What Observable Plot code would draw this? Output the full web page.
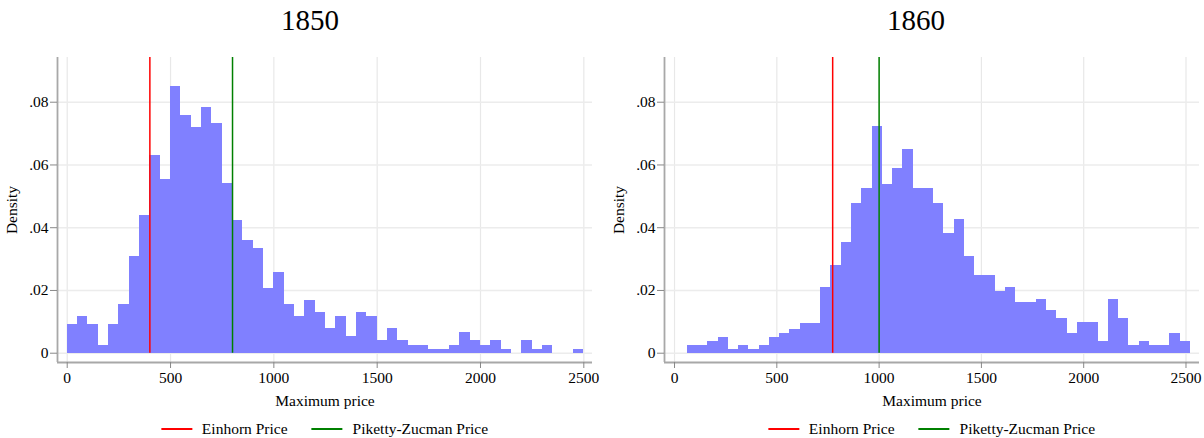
<!DOCTYPE html>
<html><head><meta charset="utf-8">
<script src="https://cdn.jsdelivr.net/npm/d3@7"></script>
<script src="https://cdn.jsdelivr.net/npm/@observablehq/plot@0.6"></script>
<style>
body{margin:0;background:#fff;font-family:"Liberation Serif","Times New Roman",serif;}
#wrap{position:relative;width:1204px;height:438px;overflow:hidden;}
.panel{position:absolute;top:0;width:602px;height:438px;}
.title{position:absolute;top:0;font-size:29px;line-height:40px;transform:translateX(-50%);white-space:nowrap;color:#000;}
.plotbox{position:absolute;top:45px;left:0;}
.legend{position:absolute;top:420px;display:flex;align-items:center;font-size:15.5px;line-height:18px;transform:translateX(-50%);white-space:nowrap;color:#000;}
.sw{display:inline-block;width:31px;height:1.5px;margin-right:10px;}
.gap{display:inline-block;width:24px;}
</style></head>
<body>
<div id="wrap"></div>
<script>
// ---- data ----
const panelYears = ["1850", "1860"];
const xTicks = [0, 500, 1000, 1500, 2000, 2500];
const yTicks = [0, 0.02, 0.04, 0.06, 0.08];
const binStart = [0, 62];
const binWidth = [50, 50.2];
const density1850 = [0.0091, 0.0117, 0.0091, 0.0024, 0.0091, 0.0155, 0.0308, 0.0440, 0.0630, 0.0553,
  0.0850, 0.0757, 0.0719, 0.0783, 0.0732, 0.0541, 0.0423, 0.0359, 0.0334, 0.0206,
  0.0257, 0.0155, 0.0117, 0.0168, 0.0130, 0.0079, 0.0117, 0.0053, 0.0130, 0.0117,
  0.0040, 0.0079, 0.0040, 0.0024, 0.0024, 0.0012, 0.0012, 0.0024, 0.0066, 0.0040,
  0.0024, 0.0040, 0.0012, 0, 0.0040, 0.0012, 0.0024, 0, 0, 0.0012];
const density1860 = [0.0024, 0.0024, 0.0037, 0.0050, 0.0012, 0.0024, 0.0012, 0.0024, 0.0050, 0.0062,
  0.0075, 0.0096, 0.0096, 0.0208, 0.0281, 0.0354, 0.0478, 0.0526, 0.0723, 0.0539,
  0.0589, 0.0650, 0.0526, 0.0526, 0.0478, 0.0380, 0.0427, 0.0307, 0.0247, 0.0247,
  0.0197, 0.0208, 0.0161, 0.0161, 0.0170, 0.0135, 0.0110, 0.0062, 0.0097, 0.0097,
  0.0037, 0.0170, 0.0110, 0.0024, 0.0037, 0.0024, 0.0024, 0.0062, 0.0037];
const einhornPrice = [400, 773];
const pikettyZucmanPrice = [800, 1000];
const seriesNames = ["Einhorn Price", "Piketty-Zucman Price"];
const seriesColors = ["#ff0000", "#008000"];
const xLabel = "Maximum price";
const yLabel = "Density";

// ---- layout ----
const layouts = [
  {left: 0, width: 602, marginLeft: 57, marginRight: 10, xDomain: [-47, 2542], titleX: 310},
  {left: 602, width: 602, marginLeft: 62, marginRight: 5, xDomain: [-49, 2566], titleX: 314}
];
const yDomain = [-0.00296, 0.09425];
const fmtY = d => d === 0 ? "0" : d3.format(".2f")(d).replace(/^0/, "");
const fmtX = d3.format("d");
const densities = [density1850, density1860];

const wrap = document.getElementById("wrap");
layouts.forEach((L, k) => {
  const data = densities[k].map((d, i) => ({
    x1: binStart[k] + i * binWidth[k],
    x2: binStart[k] + (i + 1) * binWidth[k],
    d
  }));
  const chart = Plot.plot({
    width: L.width, height: 367,
    marginTop: 12, marginBottom: 50, marginLeft: L.marginLeft, marginRight: L.marginRight,
    style: {fontFamily: "'Liberation Serif', serif", fontSize: "15.5px", color: "#000", background: "#fff", overflow: "visible"},
    x: {domain: L.xDomain},
    y: {domain: yDomain},
    marks: [
      Plot.gridX(xTicks, {stroke: "#e8e8e8", strokeOpacity: 1, strokeWidth: 1.2}),
      Plot.gridY(yTicks, {stroke: "#ececec", strokeOpacity: 1, strokeWidth: 1.5}),
      Plot.rectY(data, {x1: "x1", x2: "x2", y1: 0, y2: "d", fill: "#8080ff", inset: 0, shapeRendering: "crispEdges"}),
      Plot.ruleX([einhornPrice[k]], {y1: 0, y2: yDomain[1], stroke: seriesColors[0], strokeWidth: 1.5}),
      Plot.ruleX([pikettyZucmanPrice[k]], {y1: 0, y2: yDomain[1], stroke: seriesColors[1], strokeWidth: 1.5}),
      Plot.ruleX([L.xDomain[0]], {stroke: "#a8a8a8", strokeWidth: 1.8}),
      Plot.ruleY([yDomain[0]], {stroke: "#a8a8a8", strokeWidth: 1.8}),
      Plot.axisX(xTicks, {tickSize: 6, tickPadding: 3, stroke: "#888", fill: "#000", tickFormat: fmtX,
        label: xLabel, labelAnchor: "center", labelArrow: "none", labelOffset: 43}),
      Plot.axisY(yTicks, {tickSize: 7, tickPadding: 2, stroke: "#888", fill: "#000", tickFormat: fmtY,
        label: yLabel, labelAnchor: "center", labelArrow: "none", labelOffset: 52})
    ]
  });
  const panel = document.createElement("div");
  panel.className = "panel";
  panel.style.left = L.left + "px";
  const title = document.createElement("div");
  title.className = "title";
  title.style.left = L.titleX + "px";
  title.textContent = panelYears[k];
  panel.appendChild(title);
  const box = document.createElement("div");
  box.className = "plotbox";
  box.appendChild(chart);
  panel.appendChild(box);
  const legend = document.createElement("div");
  legend.className = "legend";
  legend.style.left = ((L.marginLeft + L.width - L.marginRight) / 2) + "px";
  seriesNames.forEach((name, j) => {
    if (j > 0) { const g = document.createElement("span"); g.className = "gap"; legend.appendChild(g); }
    const sw = document.createElement("span");
    sw.className = "sw";
    sw.style.background = seriesColors[j];
    legend.appendChild(sw);
    const t = document.createElement("span");
    t.textContent = name;
    legend.appendChild(t);
  });
  panel.appendChild(legend);
  wrap.appendChild(panel);
});
</script>
</body></html>
